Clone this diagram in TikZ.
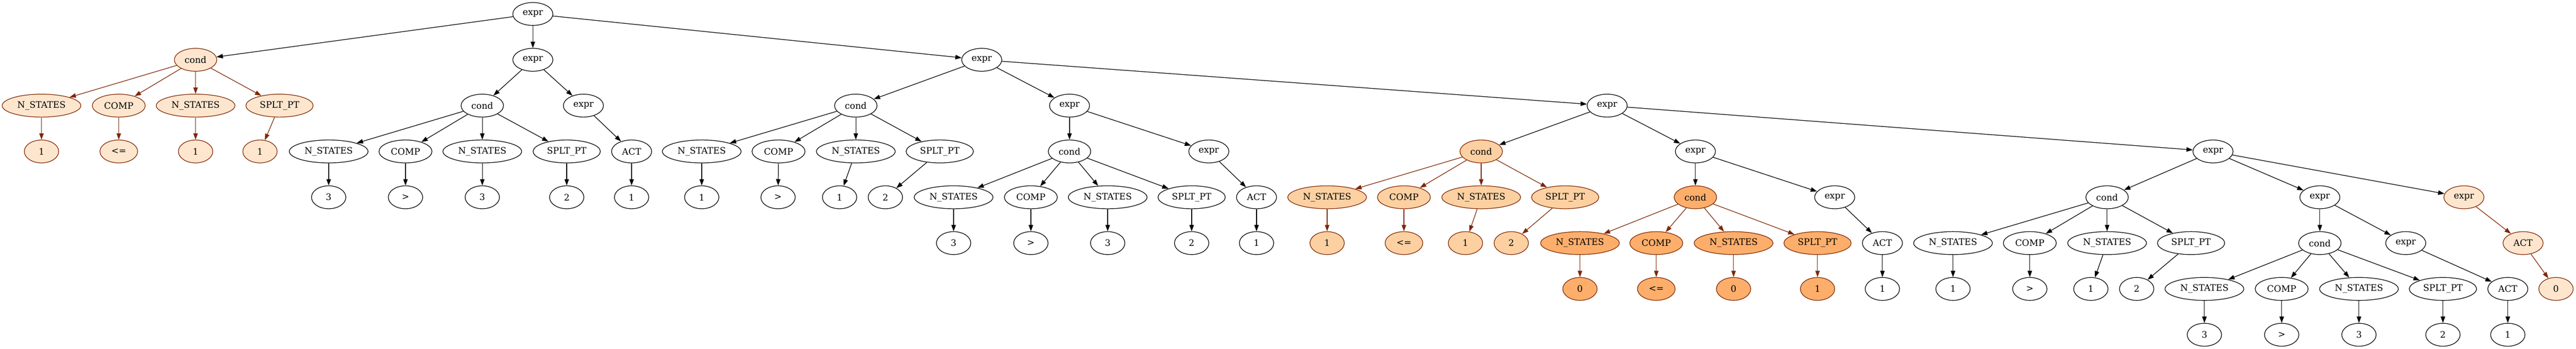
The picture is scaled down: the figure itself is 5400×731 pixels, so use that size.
\documentclass[tikz,border=0pt]{standalone}
\usepackage{fontspec}
\setmainfont{DejaVu Serif}
\usetikzlibrary{shapes.geometric,arrows.meta}
\definecolor{orA}{HTML}{FEE6CE}
\definecolor{orB}{HTML}{FDD0A2}
\definecolor{orC}{HTML}{FDAE6B}
\definecolor{brn}{HTML}{7F2704}
\newcommand\gvfont{\fontsize{14pt}{16pt}\selectfont}
\tikzset{
 gn/.style={ellipse, draw=black, line width=1pt, inner sep=0pt, minimum height=36pt, font=\gvfont},
 wexpr/.style={gn, minimum width=63pt},
 wcond/.style={gn, minimum width=66.75pt},
 wns/.style={gn, minimum width=123.75pt},
 wcomp/.style={gn, minimum width=83.25pt},
 wsp/.style={gn, minimum width=105.75pt},
 wact/.style={gn, minimum width=63pt},
 wval/.style={gn, minimum width=54pt},
 wle/.style={gn, minimum width=59.25pt},
 cA/.style={fill=orA, draw=brn},
 cB/.style={fill=orB, draw=brn},
 cC/.style={fill=orC, draw=brn},
 ed/.style={-{Triangle[length=10pt,width=7pt]}, line width=1pt, draw=black},
 eb/.style={ed, draw=brn},
}
\begin{document}
\begin{tikzpicture}[x=0.75pt,y=-0.75pt]
\useasboundingbox (0,0) rectangle (5400,731);
\def\LA{29.3}\def\LB{125.3}\def\LC{221.3}\def\LD{317.3}\def\LE{413.3}\def\LF{509.3}\def\LG{605.3}\def\LH{701.3}
% root
\node[wexpr] (r) at (1117,\LA) {expr};
% cond a
\node[wcond,cA] (a) at (410,\LB) {cond};
\node[wns,cA] (a1) at (87,\LC) {N\_STATES};
\node[wcomp,cA] (a2) at (249,\LC) {COMP};
\node[wns,cA] (a3) at (410,\LC) {N\_STATES};
\node[wsp,cA] (a4) at (586,\LC) {SPLT\_PT};
\node[wval,cA] (a1v) at (87,\LD) {1};
\node[wle,cA] (a2v) at (249,\LD) {<=};
\node[wval,cA] (a3v) at (410,\LD) {1};
\node[wval,cA] (a4v) at (545,\LD) {1};
% expr b
\node[wexpr] (b) at (1117,\LB) {expr};
\node[wcond] (bc) at (1011,\LC) {cond};
\node[wexpr] (be) at (1223,\LC) {expr};
\node[wns] (bc1) at (689,\LD) {N\_STATES};
\node[wcomp] (bc2) at (850,\LD) {COMP};
\node[wns] (bc3) at (1011,\LD) {N\_STATES};
\node[wsp] (bc4) at (1188,\LD) {SPLT\_PT};
\node[wval] (bc1v) at (689,\LE) {3};
\node[wval] (bc2v) at (850,\LE) {>};
\node[wval] (bc3v) at (1011,\LE) {3};
\node[wval] (bc4v) at (1188,\LE) {2};
\node[wact] (bea) at (1324,\LD) {ACT};
\node[wval] (beav) at (1324,\LE) {1};
% expr c
\node[wexpr] (c) at (2058,\LB) {expr};
\node[wcond] (cc) at (1794,\LC) {cond};
\node[wexpr] (ce) at (2242,\LC) {expr};
\node[wns] (cc1) at (1471,\LD) {N\_STATES};
\node[wcomp] (cc2) at (1632,\LD) {COMP};
\node[wns] (cc3) at (1794,\LD) {N\_STATES};
\node[wsp] (cc4) at (1970,\LD) {SPLT\_PT};
\node[wval] (cc1v) at (1471,\LE) {1};
\node[wval] (cc2v) at (1631,\LE) {>};
\node[wval] (cc3v) at (1760,\LE) {1};
\node[wval] (cc4v) at (1856,\LE) {2};
\node[wcond] (cec) at (2242,\LD) {cond};
\node[wexpr] (cee) at (2534,\LD) {expr};
\node[wns] (cec1) at (1999,\LE) {N\_STATES};
\node[wcomp] (cec2) at (2161,\LE) {COMP};
\node[wns] (cec3) at (2322,\LE) {N\_STATES};
\node[wsp] (cec4) at (2498,\LE) {SPLT\_PT};
\node[wval] (cec1v) at (1999,\LF) {3};
\node[wval] (cec2v) at (2161,\LF) {>};
\node[wval] (cec3v) at (2322,\LF) {3};
\node[wval] (cec4v) at (2498,\LF) {2};
\node[wact] (ceea) at (2634,\LE) {ACT};
\node[wval] (ceeav) at (2634,\LF) {1};
% expr d
\node[wexpr] (d) at (3369,\LC) {expr};
\node[wcond,cB] (dc) at (3105,\LD) {cond};
\node[wexpr] (de) at (3554,\LD) {expr};
\node[wns,cB] (dc1) at (2782,\LE) {N\_STATES};
\node[wcomp,cB] (dc2) at (2943,\LE) {COMP};
\node[wns,cB] (dc3) at (3105,\LE) {N\_STATES};
\node[wsp,cB] (dc4) at (3281,\LE) {SPLT\_PT};
\node[wval,cB] (dc1v) at (2782,\LF) {1};
\node[wle,cB] (dc2v) at (2943,\LF) {<=};
\node[wval,cB] (dc3v) at (3072,\LF) {1};
\node[wval,cB] (dc4v) at (3168,\LF) {2};
\node[wcond,cC] (dec) at (3554,\LE) {cond};
\node[wexpr] (dee) at (3846,\LE) {expr};
\node[wns,cC] (dec1) at (3312,\LF) {N\_STATES};
\node[wcomp,cC] (dec2) at (3472,\LF) {COMP};
\node[wns,cC] (dec3) at (3634,\LF) {N\_STATES};
\node[wsp,cC] (dec4) at (3810,\LF) {SPLT\_PT};
\node[wval,cC] (dec1v) at (3312,\LG) {0};
\node[wle,cC] (dec2v) at (3472,\LG) {<=};
\node[wval,cC] (dec3v) at (3634,\LG) {0};
\node[wval,cC] (dec4v) at (3810,\LG) {1};
\node[wact] (deea) at (3946,\LF) {ACT};
\node[wval] (deeav) at (3946,\LG) {1};
% expr e
\node[wexpr] (e) at (4639,\LD) {expr};
\node[wcond] (ec) at (4417,\LE) {cond};
\node[wexpr] (eg) at (4863,\LE) {expr};
\node[wexpr,cA] (eh) at (5165,\LE) {expr};
\node[wns] (ec1) at (4094,\LF) {N\_STATES};
\node[wcomp] (ec2) at (4255,\LF) {COMP};
\node[wns] (ec3) at (4417,\LF) {N\_STATES};
\node[wsp] (ec4) at (4593,\LF) {SPLT\_PT};
\node[wval] (ec1v) at (4094,\LG) {1};
\node[wval] (ec2v) at (4255,\LG) {>};
\node[wval] (ec3v) at (4383,\LG) {1};
\node[wval] (ec4v) at (4479,\LG) {2};
\node[wcond] (egc) at (4863,\LF) {cond};
\node[wexpr] (ege) at (5043,\LF) {expr};
\node[wns] (egc1) at (4621,\LG) {N\_STATES};
\node[wcomp] (egc2) at (4783,\LG) {COMP};
\node[wns] (egc3) at (4945,\LG) {N\_STATES};
\node[wsp] (egc4) at (5121,\LG) {SPLT\_PT};
\node[wval] (egc1v) at (4621,\LH) {3};
\node[wval] (egc2v) at (4783,\LH) {>};
\node[wval] (egc3v) at (4945,\LH) {3};
\node[wval] (egc4v) at (5121,\LH) {2};
\node[wact] (egea) at (5257,\LG) {ACT};
\node[wval] (egeav) at (5257,\LH) {1};
\node[wact,cA] (eha) at (5289,\LF) {ACT};
\node[wval,cA] (ehav) at (5358,\LG) {0};
% edges black
\foreach \p/\q in {r/a,r/b,r/c,b/bc,b/be,bc/bc1,bc/bc2,bc/bc3,bc/bc4,bc1/bc1v,bc2/bc2v,bc3/bc3v,bc4/bc4v,be/bea,bea/beav,
 c/cc,c/ce,c/d,cc/cc1,cc/cc2,cc/cc3,cc/cc4,cc1/cc1v,cc2/cc2v,cc3/cc3v,cc4/cc4v,ce/cec,ce/cee,cec/cec1,cec/cec2,cec/cec3,cec/cec4,
 cec1/cec1v,cec2/cec2v,cec3/cec3v,cec4/cec4v,cee/ceea,ceea/ceeav,d/dc,d/de,d/e,de/dec,de/dee,dee/deea,deea/deeav,
 e/ec,e/eg,e/eh,ec/ec1,ec/ec2,ec/ec3,ec/ec4,ec1/ec1v,ec2/ec2v,ec3/ec3v,ec4/ec4v,eg/egc,eg/ege,egc/egc1,egc/egc2,egc/egc3,egc/egc4,
 egc1/egc1v,egc2/egc2v,egc3/egc3v,egc4/egc4v,ege/egea,egea/egeav}
 \draw[ed] (\p) -- (\q);
% edges brown
\foreach \p/\q in {a/a1,a/a2,a/a3,a/a4,a1/a1v,a2/a2v,a3/a3v,a4/a4v,dc/dc1,dc/dc2,dc/dc3,dc/dc4,dc1/dc1v,dc2/dc2v,dc3/dc3v,dc4/dc4v,
 dec/dec1,dec/dec2,dec/dec3,dec/dec4,dec1/dec1v,dec2/dec2v,dec3/dec3v,dec4/dec4v,eh/eha,eha/ehav}
 \draw[eb] (\p) -- (\q);
\end{tikzpicture}
\end{document}
